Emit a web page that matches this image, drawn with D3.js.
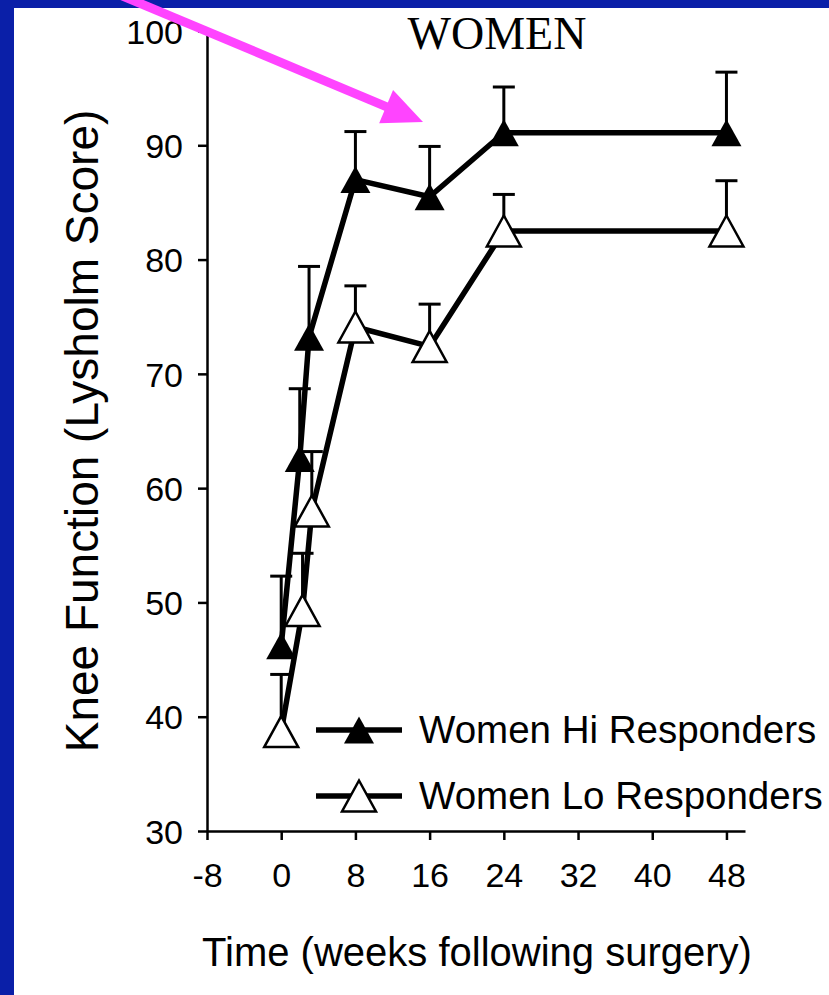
<!DOCTYPE html>
<html>
<head>
<meta charset="utf-8">
<script src="https://cdn.jsdelivr.net/npm/d3@7"></script>
<style>
  html, body { margin: 0; padding: 0; background: #0a1fa8; }
  svg { display: block; }
</style>
</head>
<body>
<svg id="chart"></svg>
<script>
// weeks after surgery (lo group plotted slightly offset at 2-3 wk in the original)
const weeksHi = [0, 2, 3, 8, 16, 24, 48];
const weeksLo = [0, 2.3, 3.3, 8, 16, 24, 48];
const hiScores = [46.2, 62.6, 73.2, 87.0, 85.5, 91.1, 91.1];
const hiErrors = [6.1, 6.1, 6.2, 4.2, 4.4, 4.0, 5.3];
const loScores = [38.7, 49.3, 58.0, 74.1, 72.4, 82.5, 82.5];
const loErrors = [5.0, 5.0, 5.2, 3.6, 3.7, 3.2, 4.4];
const xTicks = [-8, 0, 8, 16, 24, 32, 40, 48];
const yTicks = [30, 40, 50, 60, 70, 80, 90, 100];
const seriesNames = ['Women Hi Responders', 'Women Lo Responders'];

const width = 829;
const height = 995;
const sans = '"Liberation Sans", Arial, Helvetica, sans-serif';

const svg = d3.select('#chart').attr('width', width).attr('height', height);

// white panel inside the blue frame
svg.append('rect')
  .attr('x', 14).attr('y', 8)
  .attr('width', width - 14).attr('height', height - 8)
  .attr('fill', '#ffffff');

const x = d3.scaleLinear().domain([-8, 50]).range([207, 745]);
const y = d3.scaleLinear().domain([30, 100]).range([831, 31]);

// axes (plain hyphen for negatives, like the original)
const fmt = (d) => String(d);
const xAxis = svg.append('g')
  .attr('transform', `translate(0,${y(30)})`)
  .call(d3.axisBottom(x).tickValues(xTicks).tickFormat(fmt)
    .tickSizeInner(9).tickSizeOuter(0).tickPadding(23));
const yAxis = svg.append('g')
  .attr('transform', `translate(${x(-8)},0)`)
  .call(d3.axisLeft(y).tickValues(yTicks).tickFormat(fmt)
    .tickSizeInner(9).tickSizeOuter(0).tickPadding(15));

[xAxis, yAxis].forEach((g) => {
  g.selectAll('path, line').attr('stroke', '#000').attr('stroke-width', 2.5);
  g.selectAll('text').attr('fill', '#000').style('font-family', sans).style('font-size', '34px');
});
yAxis.selectAll('text').attr('dy', '0.36em');

// titles
svg.append('text')
  .attr('x', 497).attr('y', 49)
  .attr('text-anchor', 'middle')
  .style('font-family', '"Liberation Serif", "Times New Roman", serif')
  .style('font-size', '46px')
  .text('WOMEN');

svg.append('text')
  .attr('transform', 'translate(98,431) rotate(-90)')
  .attr('text-anchor', 'middle')
  .style('font-family', sans)
  .style('font-size', '46px')
  .text('Knee Function (Lysholm Score)');

svg.append('text')
  .attr('x', 477).attr('y', 966)
  .attr('text-anchor', 'middle')
  .style('font-family', sans)
  .style('font-size', '40px')
  .text('Time (weeks following surgery)');

// triangle marker path centred on its bounding box
function tri(w, h) {
  return `M0,${-h / 2}L${w / 2},${h / 2}L${-w / 2},${h / 2}Z`;
}
const hiMarker = { d: tri(30, 27), fill: '#000', stroke: 'none', sw: 0 };
const loMarker = { d: tri(34, 31), fill: '#fff', stroke: '#000', sw: 2.5 };

const series = [
  { name: seriesNames[1], weeks: weeksLo, values: loScores, errors: loErrors, marker: loMarker },
  { name: seriesNames[0], weeks: weeksHi, values: hiScores, errors: hiErrors, marker: hiMarker },
];

const line = d3.line().x((d) => x(d.week)).y((d) => y(d.value));

series.forEach((s) => {
  const pts = s.values.map((v, i) => ({ week: s.weeks[i], value: v, err: s.errors[i] }));
  const g = svg.append('g');

  g.append('path')
    .datum(pts)
    .attr('d', line)
    .attr('fill', 'none')
    .attr('stroke', '#000')
    .attr('stroke-width', 5.5)
    .attr('stroke-linejoin', 'round');

  // upper error bars
  const bars = g.selectAll('.err').data(pts).enter().append('g').classed('err', true);
  bars.append('line')
    .attr('x1', (d) => x(d.week)).attr('x2', (d) => x(d.week))
    .attr('y1', (d) => y(d.value)).attr('y2', (d) => y(d.value + d.err))
    .attr('stroke', '#000').attr('stroke-width', 3);
  bars.append('line')
    .attr('x1', (d) => x(d.week) - 11).attr('x2', (d) => x(d.week) + 11)
    .attr('y1', (d) => y(d.value + d.err)).attr('y2', (d) => y(d.value + d.err))
    .attr('stroke', '#000').attr('stroke-width', 3);

  g.selectAll('.mark').data(pts).enter().append('path')
    .classed('mark', true)
    .attr('d', s.marker.d)
    .attr('transform', (d) => `translate(${x(d.week)},${y(d.value)})`)
    .attr('fill', s.marker.fill)
    .attr('stroke', s.marker.stroke)
    .attr('stroke-width', s.marker.sw);
});

// legend
const legendRows = [
  { name: seriesNames[0], marker: hiMarker, y: 730 },
  { name: seriesNames[1], marker: loMarker, y: 796 },
];
legendRows.forEach((r) => {
  const g = svg.append('g').attr('transform', `translate(316,${r.y})`);
  g.append('line').attr('x1', 0).attr('x2', 86).attr('y1', 0).attr('y2', 0)
    .attr('stroke', '#000').attr('stroke-width', 5.5);
  g.append('path').attr('d', r.marker.d).attr('transform', 'translate(43,0)')
    .attr('fill', r.marker.fill).attr('stroke', r.marker.stroke).attr('stroke-width', r.marker.sw);
  g.append('text').attr('x', 103).attr('y', 13)
    .style('font-family', sans).style('font-size', '38.5px')
    .text(r.name);
});

// magenta pointer arrow
const tip = [423, 122];
const angle = Math.atan2(122, 291);
const ux = Math.cos(angle), uy = Math.sin(angle);
const headLen = 40, headHalf = 18;
const back = [tip[0] - headLen * ux, tip[1] - headLen * uy];
svg.append('line')
  .attr('x1', tip[0] - 345 * ux).attr('y1', tip[1] - 345 * uy)
  .attr('x2', back[0] + 2 * ux).attr('y2', back[1] + 2 * uy)
  .attr('stroke', '#ff44ff').attr('stroke-width', 9);
svg.append('polygon')
  .attr('points', [
    tip,
    [back[0] - headHalf * uy, back[1] + headHalf * ux],
    [back[0] + headHalf * uy, back[1] - headHalf * ux],
  ].map((p) => p.join(',')).join(' '))
  .attr('fill', '#ff44ff');
</script>
</body>
</html>
